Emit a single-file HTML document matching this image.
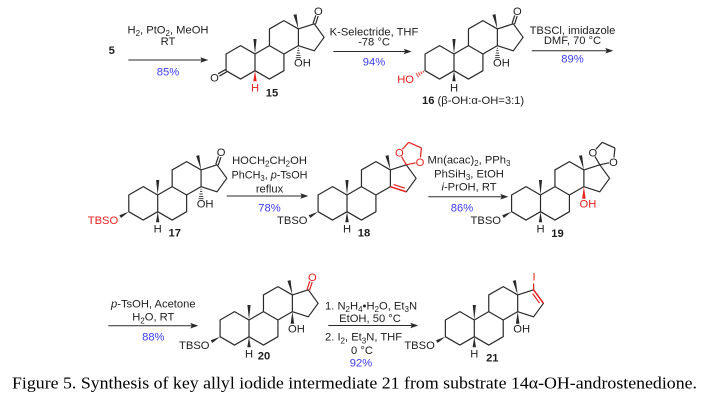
<!DOCTYPE html>
<html><head><meta charset="utf-8">
<style>
html,body{margin:0;padding:0;background:#fff;}
svg{display:block;}
text{font-family:"Liberation Sans",Arial,sans-serif;font-size:11.2px;fill:#1e1e1e;}
.b{font-weight:bold;}
.r{fill:#e8201e;}
.bl{fill:#3c3cf0;}
.cap{font-family:"Liberation Serif","Times New Roman",serif;font-size:16.5px;fill:#000;}
</style></head><body>
<svg width="713" height="402" viewBox="0 0 713 402" xmlns="http://www.w3.org/2000/svg" xmlns:xlink="http://www.w3.org/1999/xlink">
<defs>
<g id="sk">
<path d="M0,0 L-14.46,-8.35 L-28.92,0 L-28.92,16.7 L-14.46,25.05 L0,16.7 Z M0,16.7 L14.46,25.05 L28.92,16.7 L28.92,0 L14.46,-8.35 L0,0 M14.46,-8.35 L14.46,-25.05 L28.92,-33.4 L43.38,-25.05 L43.38,-8.35 L28.92,0 M43.38,-25.05 L59.3,-30.2 L69.1,-16.7 L59.3,-3.2 L43.38,-8.35" fill="none" stroke="#2a2a2a" stroke-width="1.2" stroke-linejoin="round"/>
<polygon points="0,0 -1.6,-15 1.6,-15" fill="#2a2a2a"/>
<polygon points="43.38,-25.05 41.56,-39.86 38.44,-39.14" fill="#2a2a2a"/>
</g>
<polygon id="hw" points="0,16.7 -1.7,27.3 1.7,27.3"/>
<polygon id="tw" points="-28.92,16.7 -36.7,23.04 -38.3,20.26" fill="#2a2a2a"/>
<polygon id="ow" points="43.38,-8.35 41.6,3.8 45.16,3.8"/>
<g id="hsh" stroke="#2a2a2a" stroke-width="0.9">
<line x1="42.8" y1="-5.8" x2="43.96" y2="-5.8"/>
<line x1="42.3" y1="-3.4" x2="44.46" y2="-3.4"/>
<line x1="41.8" y1="-1" x2="44.96" y2="-1"/>
<line x1="41.3" y1="1.4" x2="45.46" y2="1.4"/>
<line x1="40.9" y1="3.7" x2="45.86" y2="3.7"/>
</g>
<g id="co" fill="none">
<line x1="60.53" y1="-29.79" x2="63.23" y2="-37.89"/>
<line x1="58.07" y1="-30.61" x2="60.77" y2="-38.71"/>
</g>
<g id="ket" fill="none">
<line x1="59.3" y1="-30.2" x2="54.55" y2="-38.41"/>
<line x1="55.31" y1="-45.65" x2="61.67" y2="-52.71"/>
<line x1="61.67" y1="-52.71" x2="74.44" y2="-47.02"/>
<line x1="74.44" y1="-47.02" x2="73.45" y2="-37.56"/>
<line x1="68.58" y1="-32.17" x2="59.3" y2="-30.2"/>
</g>
</defs>

<!-- Row 1 -->
<text class="b" x="111.7" y="54" text-anchor="middle">5</text>
<line x1="128.3" y1="60" x2="203" y2="60" stroke="#2a2a2a" stroke-width="1"/>
<polygon points="208.3,60 200.3,57.2 201.8,60 200.3,62.8" fill="#2a2a2a"/>
<text x="168" y="33.3" text-anchor="middle">H<tspan dy="2.6" font-size="8">2</tspan><tspan dy="-2.6">, PtO</tspan><tspan dy="2.6" font-size="8">2</tspan><tspan dy="-2.6">, MeOH</tspan></text>
<text x="168" y="45" text-anchor="middle">RT</text>
<text class="bl" x="168" y="75.5" text-anchor="middle">85%</text>

<g transform="translate(255,54)">
<use xlink:href="#sk" href="#sk"/>
<g stroke="#2a2a2a" stroke-width="1.2">
<line x1="-28.27" y1="17.83" x2="-35.65" y2="22.08"/>
<line x1="-29.57" y1="15.57" x2="-36.95" y2="19.82"/>
</g>
<text x="-40.5" y="27.4" text-anchor="middle">O</text>
<use xlink:href="#hw" href="#hw" fill="#e8201e"/>
<text class="r" x="0" y="37.5" text-anchor="middle">H</text>
<use xlink:href="#hsh" href="#hsh"/>
<text x="39" y="12.4">OH</text>
<use xlink:href="#co" href="#co" stroke="#2a2a2a" stroke-width="1.2"/>
<text x="63.4" y="-39" text-anchor="middle">O</text>
<text class="b" x="17" y="42.3" text-anchor="middle">15</text>
</g>

<line x1="333.3" y1="51.5" x2="406.4" y2="51.5" stroke="#2a2a2a" stroke-width="1"/>
<polygon points="411.7,51.5 403.7,48.7 405.2,51.5 403.7,54.3" fill="#2a2a2a"/>
<text x="374" y="35.6" text-anchor="middle">K-Selectride, THF</text>
<text x="374" y="45.6" text-anchor="middle">-78 °C</text>
<text class="bl" x="374" y="65.6" text-anchor="middle">94%</text>

<g transform="translate(454,54)">
<use xlink:href="#sk" href="#sk"/>
<use xlink:href="#hw" href="#hw" fill="#2a2a2a"/>
<text x="0" y="37.5" text-anchor="middle">H</text>
<g stroke="#e8201e" stroke-width="0.9">
<line x1="-30.15" y1="18.57" x2="-31.15" y2="16.83"/>
<line x1="-31.91" y1="20.11" x2="-33.37" y2="17.59"/>
<line x1="-33.68" y1="21.66" x2="-35.6" y2="18.34"/>
<line x1="-35.44" y1="23.21" x2="-37.82" y2="19.09"/>
</g>
<text class="r" x="-40" y="29.1" text-anchor="end">HO</text>
<use xlink:href="#hsh" href="#hsh"/>
<text x="39" y="12.4">OH</text>
<use xlink:href="#co" href="#co" stroke="#2a2a2a" stroke-width="1.2"/>
<text x="63.4" y="-39" text-anchor="middle">O</text>
<text x="-32" y="50"><tspan class="b">16</tspan> (β-OH:α-OH=3:1)</text>
</g>

<line x1="531.7" y1="50.7" x2="608" y2="50.7" stroke="#2a2a2a" stroke-width="1"/>
<polygon points="613.3,50.7 605.3,47.9 606.8,50.7 605.3,53.5" fill="#2a2a2a"/>
<text x="572.5" y="34" text-anchor="middle">TBSCl, imidazole</text>
<text x="572.5" y="44" text-anchor="middle">DMF, 70 °C</text>
<text class="bl" x="572.5" y="62.3" text-anchor="middle">89%</text>

<!-- Row 2 -->
<g transform="translate(157.7,195)">
<use xlink:href="#sk" href="#sk"/>
<use xlink:href="#tw" href="#tw"/>
<text class="r" x="-39.5" y="29.1" text-anchor="end">TBSO</text>
<use xlink:href="#hw" href="#hw" fill="#2a2a2a"/>
<text x="0" y="37.5" text-anchor="middle">H</text>
<use xlink:href="#hsh" href="#hsh"/>
<text x="39" y="12.4">OH</text>
<use xlink:href="#co" href="#co" stroke="#2a2a2a" stroke-width="1.2"/>
<text x="63.4" y="-39" text-anchor="middle">O</text>
<text class="b" x="17" y="41.3" text-anchor="middle">17</text>
</g>

<line x1="226.7" y1="196" x2="303" y2="196" stroke="#2a2a2a" stroke-width="1"/>
<polygon points="308.3,196 300.3,193.2 301.8,196 300.3,198.8" fill="#2a2a2a"/>
<text x="269.5" y="164" text-anchor="middle">HOCH<tspan dy="2.6" font-size="8">2</tspan><tspan dy="-2.6">CH</tspan><tspan dy="2.6" font-size="8">2</tspan><tspan dy="-2.6">OH</tspan></text>
<text x="231.5" y="178.6" textLength="76" lengthAdjust="spacingAndGlyphs">PhCH<tspan dy="2.6" font-size="8">3</tspan><tspan dy="-2.6">, </tspan><tspan font-style="italic">p</tspan>-TsOH</text>
<text x="269.5" y="192.3" text-anchor="middle">reflux</text>
<text class="bl" x="269.5" y="211.3" text-anchor="middle">78%</text>

<g transform="translate(347,195)">
<use xlink:href="#sk" href="#sk"/>
<use xlink:href="#tw" href="#tw"/>
<text x="-39.5" y="29.1" text-anchor="end">TBSO</text>
<use xlink:href="#hw" href="#hw" fill="#2a2a2a"/>
<text x="0" y="37.5" text-anchor="middle">H</text>
<line x1="43.38" y1="-8.35" x2="59.3" y2="-3.2" stroke="#e8201e" stroke-width="1.4"/>
<line x1="46.69" y1="-10.44" x2="57.83" y2="-6.83" stroke="#e8201e" stroke-width="1.2"/>
<use xlink:href="#ket" href="#ket" stroke="#e8201e" stroke-width="1.2"/>
<text class="r" x="52.3" y="-38.3" text-anchor="middle">O</text>
<text class="r" x="72.98" y="-29.1" text-anchor="middle">O</text>
<text class="b" x="17" y="41.3" text-anchor="middle">18</text>
</g>

<line x1="428.3" y1="196.7" x2="503" y2="196.7" stroke="#2a2a2a" stroke-width="1"/>
<polygon points="508.3,196.7 500.3,193.9 501.8,196.7 500.3,199.5" fill="#2a2a2a"/>
<text x="469" y="163.3" text-anchor="middle">Mn(acac)<tspan dy="2.6" font-size="8">2</tspan><tspan dy="-2.6">, PPh</tspan><tspan dy="2.6" font-size="8">3</tspan></text>
<text x="469" y="177.3" text-anchor="middle">PhSiH<tspan dy="2.6" font-size="8">3</tspan><tspan dy="-2.6">, EtOH</tspan></text>
<text x="469" y="190.7" text-anchor="middle"><tspan font-style="italic">i</tspan>-PrOH,  RT</text>
<text class="bl" x="462" y="211.3" text-anchor="middle">86%</text>

<g transform="translate(540.5,195)">
<use xlink:href="#sk" href="#sk"/>
<use xlink:href="#tw" href="#tw"/>
<text x="-39.5" y="29.1" text-anchor="end">TBSO</text>
<use xlink:href="#hw" href="#hw" fill="#2a2a2a"/>
<text x="0" y="37.5" text-anchor="middle">H</text>
<use xlink:href="#ket" href="#ket" stroke="#2a2a2a" stroke-width="1.2"/>
<text x="52.3" y="-38.3" text-anchor="middle">O</text>
<text x="72.98" y="-29.1" text-anchor="middle">O</text>
<use xlink:href="#ow" href="#ow" fill="#e8201e"/>
<text class="r" x="39" y="12.4">OH</text>
<text class="b" x="17" y="41.8" text-anchor="middle">19</text>
</g>

<!-- Row 3 -->
<line x1="108.3" y1="325.7" x2="193" y2="325.7" stroke="#2a2a2a" stroke-width="1"/>
<polygon points="198.3,325.7 190.3,322.9 191.8,325.7 190.3,328.5" fill="#2a2a2a"/>
<text x="153.3" y="307.3" text-anchor="middle"><tspan font-style="italic">p</tspan>-TsOH, Acetone</text>
<text x="153.3" y="320.7" text-anchor="middle">H<tspan dy="2.6" font-size="8">2</tspan><tspan dy="-2.6">O, RT</tspan></text>
<text class="bl" x="153.3" y="340.7" text-anchor="middle">88%</text>

<g transform="translate(249,320)">
<use xlink:href="#sk" href="#sk"/>
<use xlink:href="#tw" href="#tw"/>
<text x="-39.5" y="29.1" text-anchor="end">TBSO</text>
<use xlink:href="#hw" href="#hw" fill="#2a2a2a"/>
<text x="0" y="37.5" text-anchor="middle">H</text>
<use xlink:href="#co" href="#co" stroke="#e8201e" stroke-width="1.2"/>
<text class="r" x="63.4" y="-39" text-anchor="middle">O</text>
<use xlink:href="#ow" href="#ow" fill="#2a2a2a"/>
<text x="39" y="12.4">OH</text>
<text class="b" x="15" y="39.3" text-anchor="middle">20</text>
</g>

<line x1="328.3" y1="325.5" x2="413" y2="325.5" stroke="#2a2a2a" stroke-width="1"/>
<polygon points="418.3,325.5 410.3,322.7 411.8,325.5 410.3,328.3" fill="#2a2a2a"/>
<text x="325" y="309.6">1. N<tspan dy="2.6" font-size="8">2</tspan><tspan dy="-2.6">H</tspan><tspan dy="2.6" font-size="8">4</tspan><tspan dy="-2.6">•H</tspan><tspan dy="2.6" font-size="8">2</tspan><tspan dy="-2.6">O, Et</tspan><tspan dy="2.6" font-size="8">3</tspan><tspan dy="-2.6">N</tspan></text>
<text x="370" y="322.2" text-anchor="middle">EtOH, 50 °C</text>
<text x="325" y="340.7">2. I<tspan dy="2.6" font-size="8">2</tspan><tspan dy="-2.6">, Et</tspan><tspan dy="2.6" font-size="8">3</tspan><tspan dy="-2.6">N, THF</tspan></text>
<text x="362" y="354" text-anchor="middle">0 °C</text>
<text class="bl" x="361" y="366.3" text-anchor="middle">92%</text>

<g transform="translate(474.3,320)">
<use xlink:href="#sk" href="#sk"/>
<use xlink:href="#tw" href="#tw"/>
<text x="-39.5" y="29.1" text-anchor="end">TBSO</text>
<use xlink:href="#hw" href="#hw" fill="#2a2a2a"/>
<text x="0" y="37.5" text-anchor="middle">H</text>
<line x1="59.3" y1="-30.2" x2="69.1" y2="-16.7" stroke="#e8201e" stroke-width="1.4"/>
<line x1="58.35" y1="-26.41" x2="65.21" y2="-16.96" stroke="#e8201e" stroke-width="1.2"/>
<line x1="59.3" y1="-30.2" x2="59.3" y2="-36.5" stroke="#e8201e" stroke-width="1.2"/>
<text class="r" x="59.8" y="-39.3" text-anchor="middle">I</text>
<use xlink:href="#ow" href="#ow" fill="#2a2a2a"/>
<text x="39" y="12.4">OH</text>
<text class="b" x="18" y="41.3" text-anchor="middle">21</text>
</g>

<text class="cap" x="12" y="388.5" textLength="685" lengthAdjust="spacingAndGlyphs">Figure 5. Synthesis of key allyl iodide intermediate 21 from substrate 14α-OH-androstenedione.</text>
</svg>
</body></html>
